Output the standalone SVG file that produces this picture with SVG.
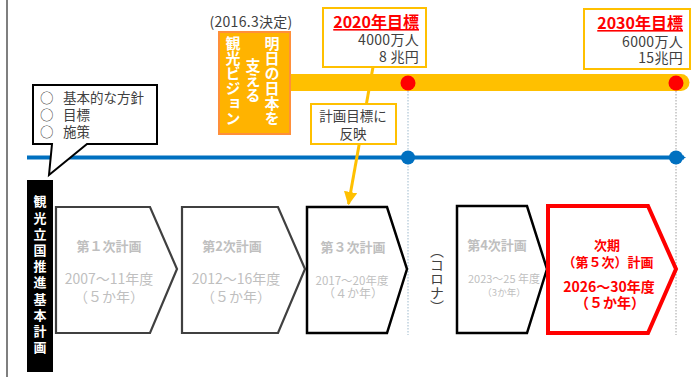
<svg xmlns="http://www.w3.org/2000/svg" width="691" height="377" viewBox="0 0 691 377">
<defs>
<style>
text{font-family:"Noto Sans CJK JP","Noto Sans",sans-serif;}
.dk{fill:#404040;font-size:13.5px;}
.gk{fill:#404040;font-size:14px;letter-spacing:0.3px;}
.gr{fill:#BFBFBF;}
.rd{fill:#FF0000;font-weight:bold;}
.vt{writing-mode:vertical-rl;}
.obox{fill:#FFFFFF;stroke:#FFC000;stroke-width:2;}
.dot{stroke:#9DB9CC;stroke-width:1;stroke-dasharray:1.5 1.5;fill:none;}
</style>
<marker id="oarr" viewBox="0 0 10 10" refX="9" refY="5" markerWidth="4.5" markerHeight="4.5" orient="auto" markerUnits="strokeWidth">
<path d="M0,0 L10,5 L0,10 Z" fill="#FFC000"/>
</marker>
<marker id="barr" viewBox="0 0 10 10" refX="8" refY="5" markerWidth="2.6" markerHeight="2.6" orient="auto" markerUnits="strokeWidth">
<path d="M0,0 L10,5 L0,10 Z" fill="#0070C0"/>
</marker>
</defs>
<rect width="691" height="377" fill="#FFFFFF"/>
<line x1="7" y1="0" x2="7" y2="377" stroke="#7F7F7F" stroke-width="2"/>

<g id="timelines">
<line class="dot" x1="408" y1="91" x2="408" y2="335"/>
<line class="dot" x1="676" y1="91" x2="676" y2="335" style="stroke:#A0A0A0"/>
<path d="M289,74 H681 A8.5,8.5 0 0 1 681,91 H289 Z" fill="#FFC000"/>
<line x1="27" y1="157.5" x2="684" y2="157.5" stroke="#0070C0" stroke-width="4" marker-end="url(#barr)"/>
<circle cx="408" cy="83" r="7.5" fill="#FF0000"/>
<circle cx="676" cy="83" r="7.5" fill="#FF0000"/>
<circle cx="408" cy="157.5" r="7" fill="#0070C0"/>
<circle cx="676" cy="157.5" r="7" fill="#0070C0"/>
</g>

<g id="connectors">
<line x1="373" y1="67" x2="348.5" y2="204" stroke="#FFC000" stroke-width="3" marker-end="url(#oarr)"/>
</g>

<g id="callout-policy">
<path d="M33,85 H157 V144 H87 L49,175 L52,144 H33 Z" fill="#FFFFFF" stroke="#000000" stroke-width="2" stroke-linejoin="miter"/>
<text class="dk" x="40" y="103">○<tspan x="63">基本的な方針</tspan></text>
<text class="dk" x="40" y="120">○<tspan x="63">目標</tspan></text>
<text class="dk" x="40" y="137">○<tspan x="63">施策</tspan></text>
</g>

<g id="vision">
<text class="gk" x="251" y="27" text-anchor="middle">(2016.3決定)</text>
<rect x="219" y="32" width="71" height="102" fill="#FFB300" stroke="#FF8F3A" stroke-width="2"/>
<text class="vt" x="272" y="36" font-size="15" font-weight="bold" fill="#FFFFFF">明日の日本を</text>
<text class="vt" x="253" y="58" font-size="15" font-weight="bold" fill="#FFFFFF">支える</text>
<text class="vt" x="233" y="36" font-size="15" font-weight="bold" fill="#FFFFFF">観光ビジョン</text>
</g>

<g id="goal2020">
<rect class="obox" x="323" y="8" width="103" height="59"/>
<text class="rd" x="419" y="28" font-size="16" text-anchor="end" text-decoration="underline">2020年目標</text>
<text class="gk" x="419" y="45" text-anchor="end">4000万人</text>
<text class="gk" x="419" y="62" text-anchor="end">8 兆円</text>
</g>

<g id="goal2030">
<rect class="obox" x="584" y="9" width="106" height="60"/>
<text class="rd" x="683" y="29" font-size="16" text-anchor="end" text-decoration="underline">2030年目標</text>
<text class="gk" x="683" y="47" text-anchor="end">6000万人</text>
<text class="gk" x="683" y="63" text-anchor="end">15兆円</text>
</g>

<g id="reflect">
<rect class="obox" x="311" y="104" width="85" height="40"/>
<text class="dk" x="353" y="121" text-anchor="middle">計画目標に</text>
<text class="dk" x="353" y="139" text-anchor="middle">反映</text>
</g>

<g id="label-plan">
<rect x="27" y="180" width="26" height="192" fill="#000000"/>
<text class="vt" x="40" y="195" font-size="13" font-weight="bold" fill="#FFFFFF" letter-spacing="3.2">観光立国推進基本計画</text>
</g>

<g id="plan1">
<polygon points="56,207 150,207 177,269 150,333 56,333" fill="#FFFFFF" stroke="#404040" stroke-width="2.2" stroke-linejoin="miter"/>
<text class="gr" x="109" y="251" font-size="13" font-weight="bold" text-anchor="middle">第１次計画</text>
<text class="gr" x="109" y="284" font-size="14" text-anchor="middle">2007〜11年度</text>
<text class="gr" x="109" y="302" font-size="14" text-anchor="middle">（５か年）</text>
</g>

<g id="plan2">
<polygon points="182,207 278,207 305,269 278,333 182,333" fill="#FFFFFF" stroke="#404040" stroke-width="2.2" stroke-linejoin="miter"/>
<text class="gr" x="232" y="251" font-size="13" font-weight="bold" text-anchor="middle">第2次計画</text>
<text class="gr" x="236" y="284" font-size="14" text-anchor="middle">2012〜16年度</text>
<text class="gr" x="236" y="302" font-size="14" text-anchor="middle">（５か年）</text>
</g>

<g id="plan3">
<polygon points="307,207 387,207 407,269 387,333 307,333" fill="#FFFFFF" stroke="#000000" stroke-width="2.5" stroke-linejoin="miter"/>
<text class="gr" x="353" y="252" font-size="13" font-weight="bold" text-anchor="middle">第３次計画</text>
<text class="gr" x="352" y="285" font-size="11.5" text-anchor="middle">2017〜20年度</text>
<text class="gr" x="353" y="298" font-size="12" text-anchor="middle">（４か年）</text>
</g>

<g id="corona">
<text class="vt" x="437" y="244" font-size="14" fill="#404040">（コロナ）</text>
</g>

<g id="plan4">
<polygon points="457,206 527,206 547,269 527,333 457,333" fill="#FFFFFF" stroke="#000000" stroke-width="2.5" stroke-linejoin="miter"/>
<text class="gr" x="497" y="250" font-size="13" font-weight="bold" text-anchor="middle">第4次計画</text>
<text class="gr" x="504" y="283" font-size="11" text-anchor="middle">2023〜25 年度</text>
<text class="gr" x="504" y="296" font-size="9.5" text-anchor="middle">（3か年）</text>
</g>

<g id="plan5">
<polygon points="548,206 648,206 676,269 648,333 548,333" fill="#FFFFFF" stroke="#FF0000" stroke-width="4" stroke-linejoin="miter"/>
<text class="rd" x="607" y="250" font-size="13" text-anchor="middle">次期</text>
<text class="rd" x="608" y="267" font-size="13" text-anchor="middle">（第５次）計画</text>
<text class="rd" x="609" y="292" font-size="14" text-anchor="middle">2026〜30年度</text>
<text class="rd" x="610" y="308" font-size="14" text-anchor="middle">（５か年）</text>
</g>
</svg>
